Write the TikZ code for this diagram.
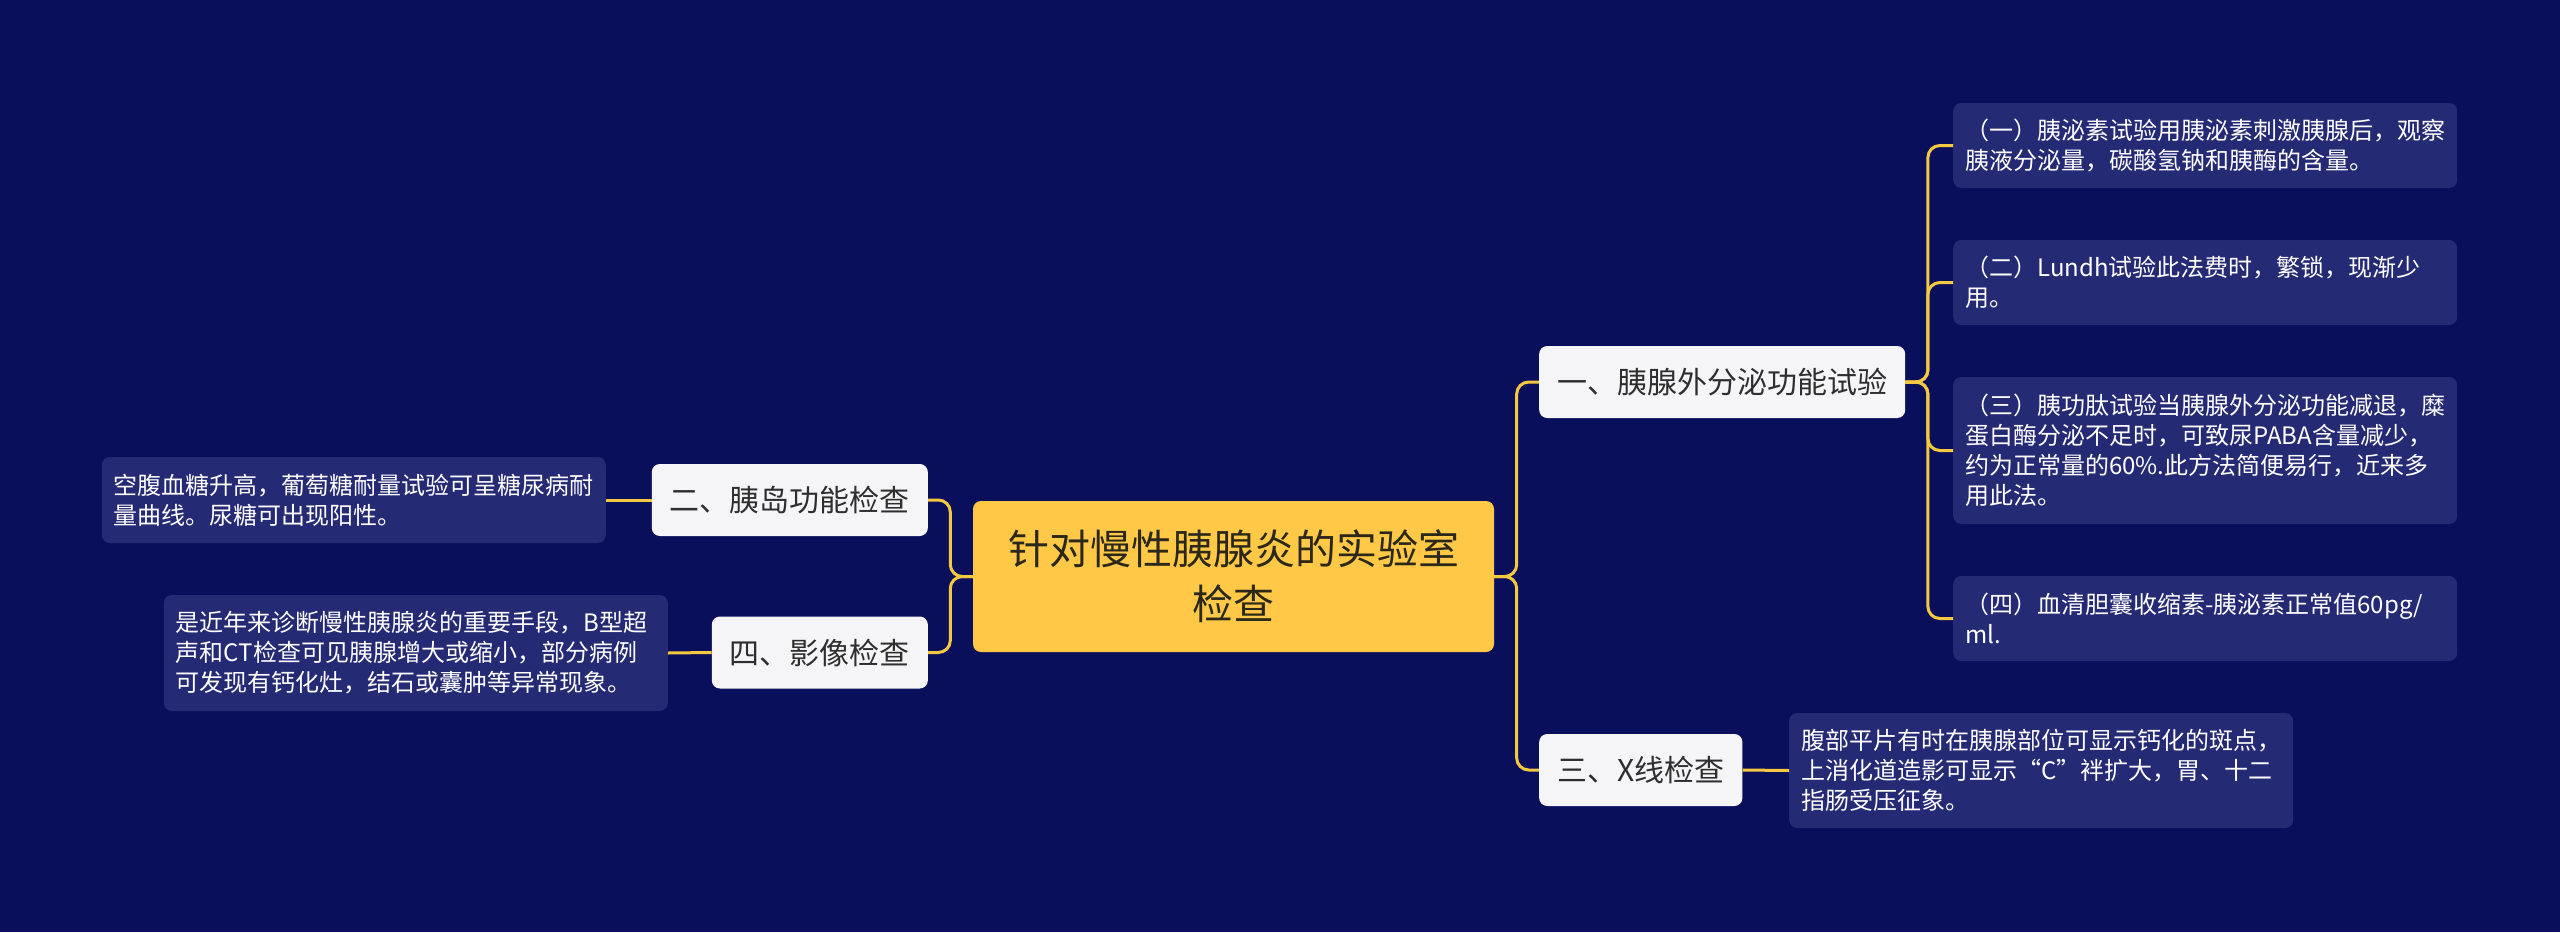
\documentclass[tikz,border=0pt]{standalone}
\usepackage{fontspec}
\setmainfont{Noto Sans CJK SC}
\usetikzlibrary{calc}
\definecolor{bgc}{HTML}{0A0F5B}
\definecolor{leafc}{HTML}{252A75}
\definecolor{linec}{HTML}{F5C842}
\definecolor{rootc}{HTML}{FFC947}
\definecolor{roottext}{HTML}{2B2819}
\definecolor{subc}{HTML}{F5F5F7}
\definecolor{subtext}{HTML}{2E2E2E}
\begin{document}
\begin{tikzpicture}[x=1pt,y=-1pt,
  rootbox/.style={fill=rootc, text=roottext, rounded corners=8pt, minimum width=521pt, minimum height=151pt, align=center, inner sep=0pt, font=\fontsize{41pt}{55pt}\selectfont},
  subbox/.style={fill=subc, text=subtext, rounded corners=8pt, minimum height=72pt, inner xsep=18pt, inner ysep=0pt, font=\fontsize{30pt}{36pt}\selectfont},
  leafbox/.style={fill=leafc, text=white, rounded corners=8pt, text width=480pt, align=left, inner xsep=12pt, inner ysep=0pt, font=\fontsize{24pt}{30pt}\selectfont},
  conn/.style={draw=linec, line width=3pt, rounded corners=12pt}]
\fill[bgc] (0,0) rectangle (2560,932);
\useasboundingbox (0,0) rectangle (2560,932);

\node[rootbox] (root) at (1233.5,576.5) {针对慢性胰腺炎的实验室\\检查};

\node[subbox, anchor=west] (s1) at (1539,382) {一、胰腺外分泌功能试验};
\node[subbox, anchor=west] (s3) at (1539,770) {三、X线检查};
\node[subbox, anchor=east] (s2) at (928,500) {二、胰岛功能检查};
\node[subbox, anchor=east] (s4) at (928,652.5) {四、影像检查};

\node[leafbox, anchor=west, minimum height=85pt] (l1) at (1953,145.5) {（一）胰泌素试验用胰泌素刺激胰腺后，观察\\胰液分泌量，碳酸氢钠和胰酶的含量。};
\node[leafbox, anchor=west, minimum height=85pt] (l2) at (1953,282.5) {（二）Lundh试验此法费时，繁锁，现渐少\\用。};
\node[leafbox, anchor=west, minimum height=147pt] (l3) at (1953,450.5) {（三）胰功肽试验当胰腺外分泌功能减退，糜\\蛋白酶分泌不足时，可致尿PABA含量减少，\\约为正常量的60\%.此方法简便易行，近来多\\用此法。};
\node[leafbox, anchor=west, minimum height=85pt] (l4) at (1953,618.5) {（四）血清胆囊收缩素-胰泌素正常值60pg/\\ml.};
\node[leafbox, anchor=west, minimum height=115pt] (lx) at (1789,770.5) {腹部平片有时在胰腺部位可显示钙化的斑点，\\上消化道造影可显示“C”袢扩大，胃、十二\\指肠受压征象。};
\node[leafbox, anchor=east, minimum height=86pt] (la) at (606,500) {空腹血糖升高，葡萄糖耐量试验可呈糖尿病耐\\量曲线。尿糖可出现阳性。};
\node[leafbox, anchor=east, minimum height=116pt] (lb) at (668,653) {是近年来诊断慢性胰腺炎的重要手段，B型超\\声和CT检查可见胰腺增大或缩小，部分病例\\可发现有钙化灶，结石或囊肿等异常现象。};

\draw[conn] (root.east) -- ++(22.5,0) |- (s1.west);
\draw[conn] (root.east) -- ++(22.5,0) |- (s3.west);
\draw[conn] (root.west) -- ++(-22.5,0) |- (s2.east);
\draw[conn] (root.west) -- ++(-22.5,0) |- (s4.east);
\draw[conn] (s1.east) -- ++(22.5,0) |- (l1.west);
\draw[conn] (s1.east) -- ++(22.5,0) |- (l2.west);
\draw[conn] (s1.east) -- ++(22.5,0) |- (l3.west);
\draw[conn] (s1.east) -- ++(22.5,0) |- (l4.west);
\draw[conn] (s3.east) -- (lx.west);
\draw[conn] (s2.west) -- (la.east);
\draw[conn] (s4.west) -- (lb.east);
\end{tikzpicture}
\end{document}
